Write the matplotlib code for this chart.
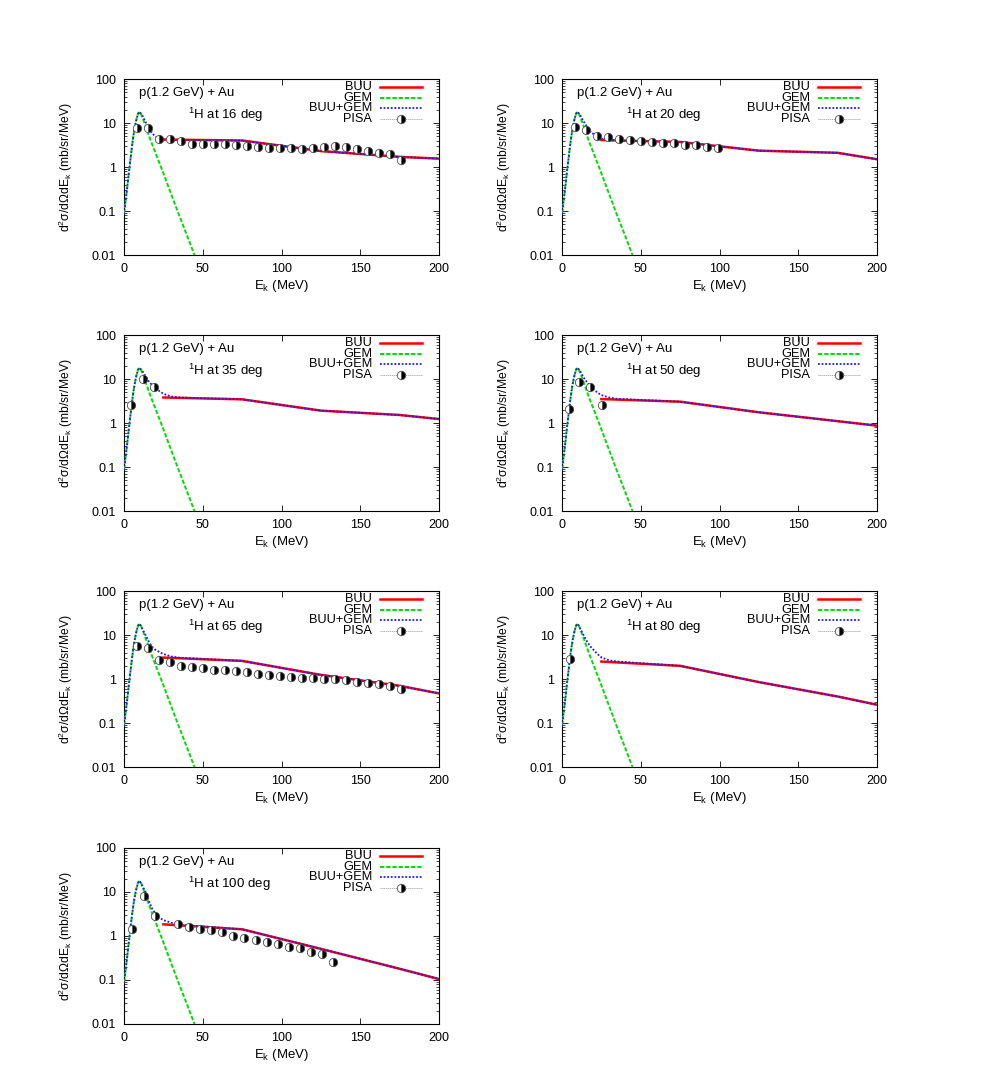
import matplotlib
matplotlib.use('Agg')
import matplotlib.pyplot as plt
from matplotlib.lines import Line2D
from matplotlib.ticker import FixedLocator, LogLocator, NullFormatter, NullLocator
import numpy as np

plt.rcParams['font.family'] = ['Liberation Sans', 'DejaVu Sans']
plt.rcParams['mathtext.fontset'] = 'custom'
plt.rcParams['mathtext.rm'] = 'Liberation Sans'
plt.rcParams['mathtext.it'] = 'Liberation Sans:italic'
plt.rcParams['font.size'] = 9.5

# GEM evaporation curve (same for every angle)
gem_e = [0, 1, 2, 3, 4, 5, 6, 7, 8, 9, 10, 11, 12, 14, 16, 18, 20, 25, 30, 35, 40, 45]
gem_y = [0.085, 0.17, 0.33, 0.7, 1.4, 2.8, 5.2, 8.5, 12.5, 16.5, 18.0, 15.5, 12.5,
         8.0, 5.0, 3.2, 2.1, 0.72, 0.24, 0.08, 0.028, 0.0095]

# BUU curves
buu_e = [25, 75, 125, 175, 200]
buu_16 = [4.2, 4.0, 2.3, 1.7, 1.55]
buu_20 = [4.1, 3.7, 2.35, 2.1, 1.5]
buu_35 = [3.8, 3.45, 1.91, 1.52, 1.23]
buu_50 = [3.5, 3.05, 1.75, 1.1, 0.87]
buu_65 = [3.07, 2.58, 1.24, 0.70, 0.47]
buu_80 = [2.49, 1.99, 0.85, 0.40, 0.26]
buu_100 = [1.84, 1.42, 0.51, 0.18, 0.105]

# BUU+GEM in the region where the two overlap
knee_e = [12, 14, 16, 18, 20, 22.5, 25, 30, 35]
knee_16 = [14, 10, 7.5, 5.8, 4.9, 4.5, 4.3, 4.2, 4.15]
knee_20 = [14, 10.5, 8, 6.5, 5.6, 4.9, 4.4, 4.1, 4.0]
knee_35 = [14.5, 11, 8.5, 7.2, 6.2, 5.3, 4.6, 4.0, 3.8]
knee_50 = [14, 10.5, 8.3, 6.8, 5.8, 4.9, 4.3, 3.8, 3.55]
knee_65 = [13, 9.5, 6.8, 5.3, 4.6, 4.1, 3.7, 3.25, 3.05]
knee_80 = [13, 9.5, 7, 5.5, 4.6, 3.7, 3.1, 2.65, 2.5]
knee_100 = [13, 9.5, 6.0, 4.1, 3.2, 2.6, 2.3, 2.0, 1.82]

# PISA data
pisa_e_16 = [8, 15, 22, 29, 36, 43, 50, 57, 64, 71, 78, 85, 92, 99, 106, 113, 120,
             127, 134, 141, 148, 155, 162, 169, 176]
pisa_16 = [7.76, 7.76, 4.28, 4.28, 3.85, 3.40, 3.29, 3.29, 3.29, 3.23, 3.01, 2.91,
           2.76, 2.71, 2.67, 2.62, 2.76, 2.86, 2.96, 2.86, 2.53, 2.36, 2.12, 1.95, 1.42]
pisa_e_20 = [8, 15, 22, 29, 36, 43, 50, 57, 64, 71, 78, 85, 92, 99]
pisa_20 = [8.18, 6.87, 5.10, 4.83, 4.43, 4.13, 3.92, 3.72, 3.59, 3.47, 3.23, 3.18, 2.91, 2.76]
pisa_e_35 = [4.2, 12, 19]
pisa_35 = [2.56, 9.8, 6.58]
pisa_e_50 = [4.2, 11, 18, 25.4]
pisa_50 = [2.08, 8.4, 6.7, 2.56]
pisa_e_65 = pisa_e_16
pisa_65 = [5.65, 5.19, 2.67, 2.45, 2.02, 1.92, 1.82, 1.61, 1.58, 1.53, 1.43, 1.33, 1.24,
           1.20, 1.12, 1.06, 1.03, 1.01, 0.975, 0.925, 0.862, 0.805, 0.750, 0.688, 0.588]
pisa_e_80 = [4.9]
pisa_80 = [2.82]
pisa_e_100 = [5, 12.5, 19.5, 34, 41, 48, 55, 62, 69, 76.5, 83.5, 90.5, 97.5, 104.5,
              111.5, 118.5, 125.5, 132.5]
pisa_100 = [1.47, 8.05, 2.84, 1.84, 1.60, 1.42, 1.34, 1.23, 1.0, 0.885, 0.81, 0.745,
            0.648, 0.564, 0.526, 0.442, 0.385, 0.262]

angles = [16, 20, 35, 50, 65, 80, 100]
buu_all = [buu_16, buu_20, buu_35, buu_50, buu_65, buu_80, buu_100]
knee_all = [knee_16, knee_20, knee_35, knee_50, knee_65, knee_80, knee_100]
pisa_e_all = [pisa_e_16, pisa_e_20, pisa_e_35, pisa_e_50, pisa_e_65, pisa_e_80, pisa_e_100]
pisa_all = [pisa_16, pisa_20, pisa_35, pisa_50, pisa_65, pisa_80, pisa_100]

yticks = [0.01, 0.1, 1, 10, 100]
ytick_labels = ['0.01', '0.1', '1', '10', '100']
xticks = [0, 50, 100, 150, 200]

red = '#ff0000'
green = '#00dd00'
blue = '#1a1aff'

fig = plt.figure(figsize=(9.81, 10.90), dpi=100)

W, H = 981.0, 1090.0
lefts = [124, 562]
tops = [79, 335, 591, 848]
aw, ah = 315, 176

pisa_style = dict(marker='o', ms=6, fillstyle='right', markerfacecolor='black',
                  markerfacecoloralt='white', markeredgecolor='0.3', markeredgewidth=0.6)

for i, ang in enumerate(angles):
    row, col = i // 2, i % 2
    ax = fig.add_axes([lefts[col] / W, 1 - (tops[row] + ah) / H, aw / W, ah / H])

    blue_e = gem_e[:11] + knee_e + buu_e[1:]
    blue_y = gem_y[:11] + knee_all[i] + buu_all[i][1:]

    ax.plot(buu_e, buu_all[i], color=red, lw=1.8, zorder=2)
    ax.plot(gem_e, gem_y, color=green, lw=1.4, linestyle=(0, (2.2, 1.0)), zorder=3)
    ax.plot(blue_e, blue_y, color=blue, lw=1.3, linestyle=(0, (1.0, 1.0)), zorder=4)
    ax.plot(pisa_e_all[i], pisa_all[i], linestyle='none', zorder=5, **pisa_style)

    ax.set_yscale('log')
    ax.set_xlim(0, 200)
    ax.set_ylim(0.01, 100)
    ax.yaxis.set_major_locator(FixedLocator(yticks))
    ax.set_yticklabels(ytick_labels)
    ax.yaxis.set_minor_locator(LogLocator(base=10, subs=np.arange(2, 10)))
    ax.yaxis.set_minor_formatter(NullFormatter())
    ax.set_xticks(xticks)
    ax.xaxis.set_minor_locator(NullLocator())
    ax.tick_params(which='both', direction='in', top=True, right=True, labelsize=9)
    ax.tick_params(which='major', length=4, width=0.6, pad=6)
    ax.tick_params(which='minor', length=2, width=0.5)
    for s in ax.spines.values():
        s.set_linewidth(0.8)

    ax.set_xlabel(r'E$_\mathrm{k}$ (MeV)', fontsize=9.5, labelpad=2)
    ax.set_ylabel(r'd$^2$σ/dΩdE$_\mathrm{k}$ (mb/sr/MeV)', fontsize=8.7, labelpad=12)

    ax.text(0.048, 0.922, 'p(1.2 GeV) + Au', transform=ax.transAxes, ha='left', va='center')
    ax.text(0.202, 0.794, r'$^1$H at %d deg' % ang, transform=ax.transAxes,
            ha='left', va='center')

    # gnuplot style key, right aligned text with sample to the right
    names = ['BUU', 'GEM', 'BUU+GEM', 'PISA']
    ys = [0.952, 0.893, 0.834, 0.775]
    styles = [dict(color=red, lw=1.8),
              dict(color=green, lw=1.4, linestyle=(0, (2.2, 1.0))),
              dict(color=blue, lw=1.3, linestyle=(0, (1.0, 1.0))),
              dict(color='0.6', lw=0.7, linestyle=(0, (1.0, 1.0)))]
    for nm, yy, st in zip(names, ys, styles):
        ax.text(0.787, yy, nm, transform=ax.transAxes, ha='right', va='center', fontsize=9.2)
        ax.add_line(Line2D([0.813, 0.945], [yy, yy], transform=ax.transAxes, **st))
    ax.add_line(Line2D([0.879], [ys[3]], transform=ax.transAxes, linestyle='none',
                       **pisa_style))

fig.savefig('out.png', dpi=100)
